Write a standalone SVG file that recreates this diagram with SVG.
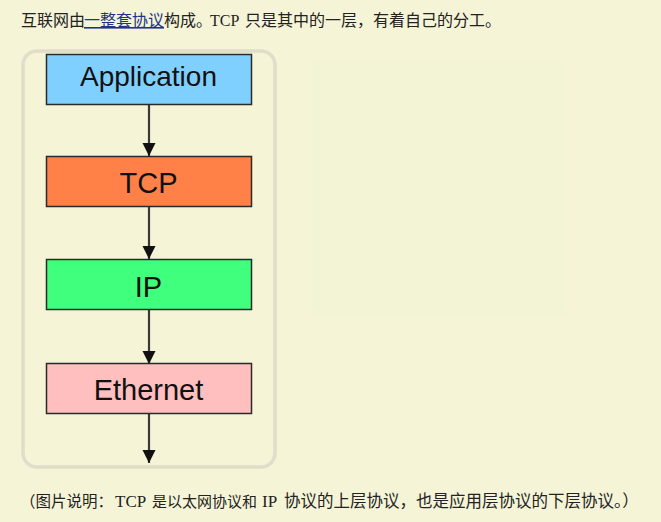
<svg xmlns="http://www.w3.org/2000/svg" width="661" height="522" viewBox="0 0 661 522">
<style>
.bg{fill:#f5f4d7}
.para{font-family:"Liberation Serif","Noto Sans CJK SC",serif;font-size:16px;fill:#222}
.cap{font-family:"Liberation Serif","Noto Sans CJK SC",serif;font-size:16px;fill:#222}
.link{fill:#22348a;text-decoration:underline}
.frame{fill:none;stroke:#e0ddcb;stroke-width:3.5}
.box{stroke:#2a2a2a;stroke-width:1.5}
.lbl{font-family:"Liberation Sans",Arial,sans-serif;font-size:29px;fill:#111;text-anchor:middle}
.conn{stroke:#3a3a3a;stroke-width:2.2;fill:none;marker-end:url(#ah)}
</style>
<defs>
<marker id="ah" viewBox="0 0 13 16" refX="13" refY="6.5" markerWidth="13" markerHeight="16" markerUnits="userSpaceOnUse" orient="auto">
<path d="M0,0 L16,6.5 L0,13 Z" fill="#111" transform="scale(0.8125,1)"/>
</marker>
</defs>
<rect class="bg" x="0" y="0" width="661" height="522"/>
<rect x="312" y="62" width="253" height="254" fill="#f3f3d5"/>
<text class="para" y="26"><tspan x="21">互联网由</tspan><tspan x="84" class="link">一整套协议</tspan><tspan x="164">构成。</tspan><tspan x="210">TCP</tspan><tspan x="245">只是其中的一层，有着自己的分工。</tspan></text>
<rect class="frame" x="23" y="51" width="252" height="416" rx="14" ry="14"/>
<g id="connectors">
<line class="conn" x1="149" y1="105" x2="149" y2="156"/>
<line class="conn" x1="149" y1="207" x2="149" y2="259"/>
<line class="conn" x1="149" y1="310" x2="149" y2="364"/>
<line class="conn" x1="149" y1="413" x2="149" y2="463"/>
</g>
<g id="application">
<rect class="box" x="46.5" y="54.5" width="205" height="50" fill="#80d0ff"/>
<text class="lbl" x="148.5" y="86" style="font-size:28px">Application</text>
</g>
<g id="tcp">
<rect class="box" x="46.5" y="156.5" width="205" height="50" fill="#ff8148"/>
<text class="lbl" x="148.5" y="193">TCP</text>
</g>
<g id="ip">
<rect class="box" x="46.5" y="259.5" width="205" height="50" fill="#40ff7d"/>
<text class="lbl" x="148.5" y="297">IP</text>
</g>
<g id="ethernet">
<rect class="box" x="46.5" y="363.5" width="205" height="50" fill="#ffbfbf"/>
<text class="lbl" x="148.5" y="400">Ethernet</text>
</g>
<text class="cap" x="20" y="507" style="font-size:15.5px">（图片说明：</text>
<text class="cap" x="115" y="507" style="font-size:17px">TCP</text>
<text class="cap" x="152" y="507" style="font-size:15px">是以太网协议和</text>
<text class="cap" x="262" y="507" style="font-size:17px">IP</text>
<text class="cap" x="284" y="507" style="font-size:16.5px">协议的上层协议，也是应用层协议的下层协议。）</text>
</svg>
